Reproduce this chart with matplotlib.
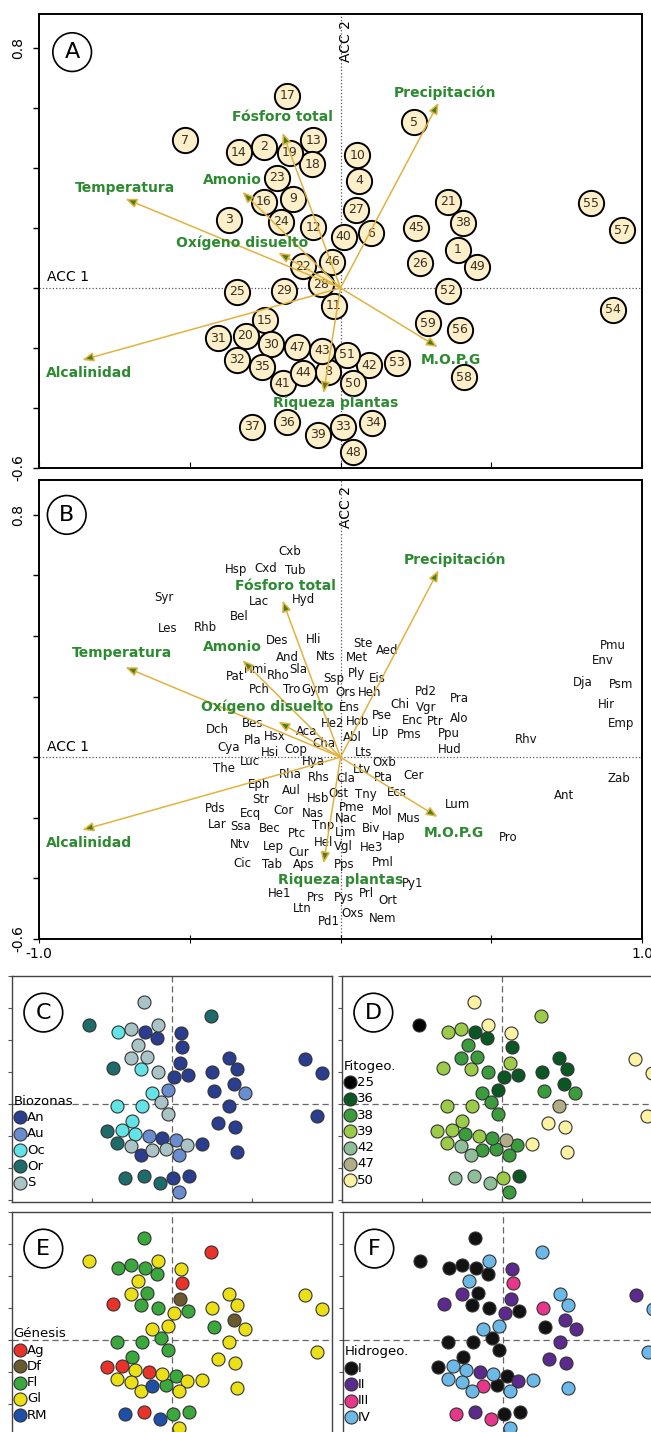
import matplotlib.pyplot as plt
import numpy as np

# ---- sites (ACC 1, ACC 2), ids 1..59 ----
site_id = list(range(1, 60))
site_x = [0.39, -0.255, -0.371, 0.063, 0.245, 0.10, -0.517, -0.04, -0.156, 0.056,
          -0.023, -0.09, -0.09, -0.338, -0.252, -0.255, -0.176, -0.093, -0.169, -0.315,
          0.355, -0.126, -0.212, -0.196, -0.342, 0.265, 0.053, -0.066, -0.186, -0.229,
          -0.405, -0.342, 0.007, 0.106, -0.259, -0.176, -0.292, 0.405, -0.076, 0.01,
          -0.192, 0.096, -0.06, -0.123, 0.252, -0.027, -0.143, 0.043, 0.454, 0.043,
          0.023, 0.358, 0.186, 0.905, 0.832, 0.395, 0.935, 0.408, 0.289]
site_y = [0.127, 0.47, 0.227, 0.357, 0.553, 0.183, 0.493, -0.28, 0.297, 0.443,
          -0.06, 0.203, 0.493, 0.453, -0.107, 0.287, 0.64, 0.413, 0.45, -0.16,
          0.287, 0.073, 0.367, 0.22, -0.013, 0.083, 0.26, 0.013, -0.01, -0.187,
          -0.167, -0.24, -0.463, -0.45, -0.263, -0.447, -0.463, 0.217, -0.49, 0.17,
          -0.317, -0.257, -0.21, -0.283, 0.20, 0.087, -0.197, -0.547, 0.07, -0.317,
          -0.223, -0.01, -0.25, -0.073, 0.283, -0.14, 0.193, -0.297, -0.117]

biozona = ['An', 'S', 'Or', 'An', 'Or', 'An', 'Or', 'S', 'S', 'An',
           'S', 'S', 'S', 'Oc', 'Oc', 'S', 'S', 'An', 'An', 'Oc',
           'An', 'Oc', 'S', 'Oc', 'Oc', 'An', 'An', 'S', 'Oc', 'Oc',
           'Or', 'Or', 'An', 'An', 'S', 'Or', 'Or', 'An', 'Or', 'An',
           'An', 'S', 'An', 'S', 'An', 'Au', 'Au', 'Au', 'Au', 'Au',
           'Au', 'An', 'An', 'An', 'An', 'An', 'An', 'An', 'An']
fitogeo = ['36', '39', '39', '36', '39', '36', '25', '38', '38', '50',
           '38', '38', '50', '39', '39', '38', '50', '36', '36', '39',
           '36', '38', '38', '39', '39', '38', '39', '38', '39', '38',
           '39', '39', '39', '36', '42', '42', '42', '36', '42', '36',
           '42', '38', '38', '38', '36', '36', '39', '38', '38', '38',
           '47', '47', '50', '50', '50', '50', '50', '50', '50']
genesis = ['Df', 'Fl', 'Ag', 'Ag', 'Ag', 'Fl', 'Gl', 'Fl', 'Fl', 'Gl',
           'Fl', 'Fl', 'Gl', 'Fl', 'Fl', 'Gl', 'Fl', 'Fl', 'Fl', 'Ag',
           'Gl', 'Gl', 'Gl', 'Fl', 'Fl', 'Fl', 'Df', 'Fl', 'Fl', 'Gl',
           'Ag', 'Gl', 'Fl', 'Fl', 'Gl', 'Ag', 'RM', 'Gl', 'RM', 'Gl',
           'Gl', 'Gl', 'Gl', 'RM', 'Gl', 'Gl', 'Ag', 'Gl', 'Gl', 'Gl',
           'Fl', 'Gl', 'Gl', 'Gl', 'Gl', 'Gl', 'Gl', 'Gl', 'Gl']
hidrogeo = ['II', 'I', 'II', 'III', 'IV', 'I', 'I', 'I', 'I', 'II',
            'I', 'I', 'IV', 'I', 'I', 'II', 'I', 'I', 'I', 'IV',
            'IV', 'IV', 'IV', 'I', 'I', 'I', 'II', 'I', 'I', 'IV',
            'I', 'IV', 'I', 'I', 'IV', 'II', 'III', 'IV', 'III', 'II',
            'IV', 'II', 'IV', 'III', 'III', 'IV', 'II', 'IV', 'II', 'IV',
            'I', 'II', 'IV', 'IV', 'II', 'II', 'IV', 'IV', 'II']

# ---- environmental vectors ----
env_names = ['Temperatura', 'Amonio', 'Fósforo total', 'Precipitación',
             'Oxígeno disuelto', 'Alcalinidad', 'Riqueza plantas', 'M.O.P.G']
env_x = [-0.713, -0.325, -0.192, 0.325, -0.206, -0.856, -0.056, 0.322]
env_y = [0.297, 0.32, 0.517, 0.617, 0.117, -0.24, -0.35, -0.197]
# label anchors for panels A and B
lab_a = [(-0.716, 0.333), (-0.358, 0.36), (-0.192, 0.57), (0.345, 0.65),
         (-0.325, 0.15), (-0.833, -0.283), (-0.017, -0.383), (0.365, -0.24)]
lab_b = [(-0.726, 0.343), (-0.358, 0.363), (-0.182, 0.564), (0.381, 0.653),
         (-0.245, 0.165), (-0.833, -0.284), (0.0, -0.406), (0.375, -0.251)]

# ---- species scores ----
sp_name = ['Cxb', 'Hsp', 'Cxd', 'Tub', 'Syr', 'Lac', 'Hyd', 'Bel', 'Les', 'Rhb',
           'Des', 'Hli', 'And', 'Nts', 'Hmi', 'Sla', 'Ssp', 'Pat', 'Rho', 'Pch',
           'Tro', 'Gym', 'Ste', 'Aed', 'Met', 'Ply', 'Eis', 'Ors', 'Heh', 'Pd2',
           'Pra', 'Chi', 'Vgr', 'Ens', 'Pmu', 'Env', 'Dja', 'Psm', 'Hir', 'He2',
           'Hob', 'Pse', 'Enc', 'Ptr', 'Alo', 'Emp', 'Abl', 'Lip', 'Pms', 'Ppu',
           'Rhv', 'Hud', 'Lts', 'Oxb', 'Ltv', 'Pta', 'Cer', 'Zab', 'Cla', 'Ost',
           'Tny', 'Ecs', 'Ant', 'Lum', 'Pme', 'Mol', 'Nac', 'Mus', 'Lim', 'Biv',
           'Hap', 'Pro', 'Vgl', 'He3', 'Pml', 'Pps', 'Py1', 'Pys', 'Prl', 'Ort',
           'Oxs', 'Nem', 'Bes', 'Dch', 'Aca', 'Pla', 'Hsx', 'Cha', 'Cya', 'Hsi',
           'Cop', 'Luc', 'Hya', 'The', 'Rha', 'Rhs', 'Eph', 'Aul', 'Hsb', 'Str',
           'Pds', 'Ecq', 'Cor', 'Nas', 'Lar', 'Ssa', 'Bec', 'Ptc', 'Tnp', 'Hel',
           'Ntv', 'Lep', 'Cur', 'Cic', 'Tab', 'Aps', 'He1', 'Prs', 'Ltn', 'Pd1']
sp_x = [-0.169, -0.348, -0.249, -0.149, -0.587, -0.272, -0.123, -0.335, -0.574, -0.448,
        -0.209, -0.090, -0.176, -0.050, -0.282, -0.139, -0.023, -0.348, -0.206, -0.269,
        -0.163, -0.083, 0.076, 0.156, 0.056, 0.053, 0.123, 0.017, 0.096, 0.282,
        0.395, 0.196, 0.285, 0.030, 0.905, 0.869, 0.803, 0.929, 0.882, -0.027,
        0.056, 0.139, 0.239, 0.315, 0.395, 0.932, 0.040, 0.133, 0.229, 0.358,
        0.617, 0.362, 0.076, 0.146, 0.070, 0.143, 0.242, 0.922, 0.017, -0.007,
        0.083, 0.186, 0.740, 0.388, 0.036, 0.139, 0.017, 0.226, 0.017, 0.100,
        0.176, 0.557, 0.010, 0.103, 0.139, 0.013, 0.239, 0.010, 0.086, 0.156,
        0.040, 0.139, -0.292, -0.408, -0.113, -0.292, -0.219, -0.056, -0.371, -0.235,
        -0.149, -0.299, -0.090, -0.388, -0.166, -0.073, -0.269, -0.163, -0.076, -0.265,
        -0.415, -0.299, -0.189, -0.093, -0.408, -0.332, -0.235, -0.143, -0.056, -0.056,
        -0.332, -0.222, -0.139, -0.325, -0.226, -0.123, -0.202, -0.083, -0.126, -0.040]
sp_y = [0.680, 0.620, 0.624, 0.617, 0.528, 0.515, 0.521, 0.465, 0.426, 0.429,
        0.386, 0.389, 0.330, 0.333, 0.290, 0.290, 0.261, 0.267, 0.271, 0.224,
        0.224, 0.224, 0.376, 0.353, 0.330, 0.277, 0.261, 0.215, 0.215, 0.218,
        0.195, 0.175, 0.165, 0.165, 0.370, 0.320, 0.248, 0.241, 0.175, 0.112,
        0.119, 0.139, 0.122, 0.119, 0.129, 0.112, 0.066, 0.083, 0.076, 0.079,
        0.059, 0.026, 0.017, -0.017, -0.040, -0.066, -0.059, -0.069, -0.069, -0.119,
        -0.122, -0.116, -0.125, -0.155, -0.165, -0.178, -0.201, -0.201, -0.248, -0.234,
        -0.261, -0.264, -0.294, -0.297, -0.347, -0.353, -0.416, -0.462, -0.449, -0.472,
        -0.515, -0.531, 0.112, 0.092, 0.086, 0.056, 0.069, 0.046, 0.033, 0.017,
        0.026, -0.013, -0.013, -0.036, -0.056, -0.066, -0.089, -0.109, -0.135, -0.139,
        -0.168, -0.185, -0.175, -0.185, -0.221, -0.228, -0.234, -0.251, -0.224, -0.281,
        -0.287, -0.294, -0.314, -0.350, -0.353, -0.353, -0.449, -0.462, -0.498, -0.541]

# ---- category colours ----
bio_cats = ['An', 'Au', 'Oc', 'Or', 'S']
bio_cols = ['#2b3d8f', '#6a8dd0', '#62e4e6', '#1e6b6c', '#a9c3c7']
fit_cats = ['25', '36', '38', '39', '42', '47', '50']
fit_cols = ['#000000', '#0b5723', '#3a9c3c', '#9ccb48', '#8fbf99', '#b1ad87', '#fdf2a2']
gen_cats = ['Ag', 'Df', 'Fl', 'Gl', 'RM']
gen_cols = ['#e8322a', '#6b5a2e', '#3aa83c', '#ebe016', '#1f4fa6']
hid_cats = ['I', 'II', 'III', 'IV']
hid_cols = ['#121212', '#5b2a8c', '#e8368a', '#6cb9e8']

W, H = 651, 1432
fig = plt.figure(figsize=(W / 100, H / 100), dpi=100)
plt.rcParams['font.family'] = 'DejaVu Sans'

GOLD = '#e2b23e'
GREEN = '#2c8a30'


def px_axes(left, top, width, height):
    return fig.add_axes([left / W, 1 - (top + height) / H, width / W, height / H])


def circle_tag(ax, x, y, letter):
    ax.text(x, y, letter, transform=ax.transAxes, ha='center', va='center',
            fontsize=16, zorder=10,
            bbox=dict(boxstyle='circle,pad=0.42', fc='white', ec='black', lw=1.2))


def ordination_frame(ax, ymax):
    ax.set_xlim(-1, 1)
    ax.set_ylim(-0.6, ymax)
    ax.axhline(0, color='#555555', ls=':', lw=0.9, zorder=0)
    ax.axvline(0, color='#555555', ls=':', lw=0.9, zorder=0)
    ax.set_yticks(np.round(np.arange(-0.6, 0.81, 0.2), 1))
    ax.set_yticklabels(['-0.6', '', '', '', '', '', '', '0.8'], rotation=90,
                       va='center', fontsize=10)
    ax.tick_params(axis='y', direction='out', length=4, width=1, pad=6)
    ax.set_xticks([-1, -0.5, 0, 0.5, 1])
    for s in ax.spines.values():
        s.set_linewidth(1.4)
    ax.text(-0.975, 0.012, 'ACC 1', ha='left', va='bottom', fontsize=10)
    ax.text(0.018, ymax - 0.02, 'ACC 2', ha='center', va='top', rotation=90, fontsize=10)


def env_arrows(ax, labels):
    for name, tx, ty, (lx, ly) in zip(env_names, env_x, env_y, labels):
        ax.annotate('', xy=(tx, ty), xytext=(0, 0), zorder=5,
                    arrowprops=dict(arrowstyle='-|>,head_length=0.6,head_width=0.25',
                                    mutation_scale=11, lw=1.1, ec=GOLD, fc='#4a7f1c',
                                    shrinkA=0, shrinkB=0))
        ax.text(lx, ly, name, ha='center', va='center', color=GREEN,
                fontsize=10, fontweight='bold', zorder=6)


# ---- panel A: sites ----
axA = px_axes(39, 14, 603, 454)
ordination_frame(axA, 0.913)
axA.set_xticklabels([])
axA.tick_params(axis='x', direction='in', length=4)
axA.scatter(site_x, site_y, s=330, c='#fcefca', edgecolors='black', linewidths=1.4, zorder=3)
for i, x, y in zip(site_id, site_x, site_y):
    axA.text(x, y, str(i), ha='center', va='center', fontsize=9, color='#3a3020', zorder=4)
env_arrows(axA, lab_a)
circle_tag(axA, 0.055, 0.916, 'A')

# ---- panel B: species ----
axB = px_axes(39, 480, 603, 459)
ordination_frame(axB, 0.915)
axB.set_xticklabels(['-1.0', '', '', '', '1.0'], fontsize=10)
axB.tick_params(axis='x', direction='inout', length=6, pad=3)
for n, x, y in zip(sp_name, sp_x, sp_y):
    axB.text(x, y, n, ha='center', va='center', fontsize=8.5, color='#111111', zorder=3)
env_arrows(axB, lab_b)
circle_tag(axB, 0.046, 0.924, 'B')


# ---- panels C-F: sites coloured by factor ----
def factor_panel(ax, groups, cats, cols, title, tag, leg_y):
    ax.set_xlim(-1, 1)
    ax.set_ylim(-0.61, 0.8)
    ax.axhline(0, color='#666666', ls=(0, (5, 3)), lw=0.9, zorder=0)
    ax.axvline(0, color='#666666', ls=(0, (5, 3)), lw=0.9, zorder=0)
    gx = np.array(site_x)
    gy = np.array(site_y)
    g = np.array(groups)
    for cat, col in zip(cats, cols):
        m = g == cat
        ax.scatter(gx[m], gy[m], s=88, c=col, edgecolors='#333333', linewidths=0.8,
                   label=cat, zorder=3)
    ax.set_xticks([-0.5, 0, 0.5])
    ax.set_yticks(np.round(np.arange(-0.6, 0.81, 0.2), 1))
    ax.set_xticklabels([])
    ax.set_yticklabels([])
    ax.tick_params(axis='x', direction='in', length=3, color='#555555')
    ax.tick_params(axis='y', direction='out', length=3, color='#555555')
    for s in ax.spines.values():
        s.set_linewidth(1.0)
        s.set_color('#444444')
    leg = ax.legend(loc='upper left', bbox_to_anchor=(0.004, leg_y), frameon=False,
                    title=title, title_fontsize=9.5, fontsize=9.5, alignment='left',
                    handletextpad=0.05, handlelength=1.0, labelspacing=0.25,
                    borderpad=0, borderaxespad=0)
    leg.set_zorder(6)
    circle_tag(ax, 0.098, 0.838, tag)


axC = px_axes(12, 976, 320, 226)
factor_panel(axC, biozona, bio_cats, bio_cols, 'Biozonas', 'C', 0.475)
axD = px_axes(342, 976, 320, 226)
factor_panel(axD, fitogeo, fit_cats, fit_cols, 'Fitogeo.', 'D', 0.63)
axE = px_axes(12, 1212, 320, 226)
factor_panel(axE, genesis, gen_cats, gen_cols, 'Génesis', 'E', 0.49)
axF = px_axes(343, 1212, 320, 226)
factor_panel(axF, hidrogeo, hid_cats, hid_cols, 'Hidrogeo.', 'F', 0.41)

fig.savefig('out.png', dpi=100)
